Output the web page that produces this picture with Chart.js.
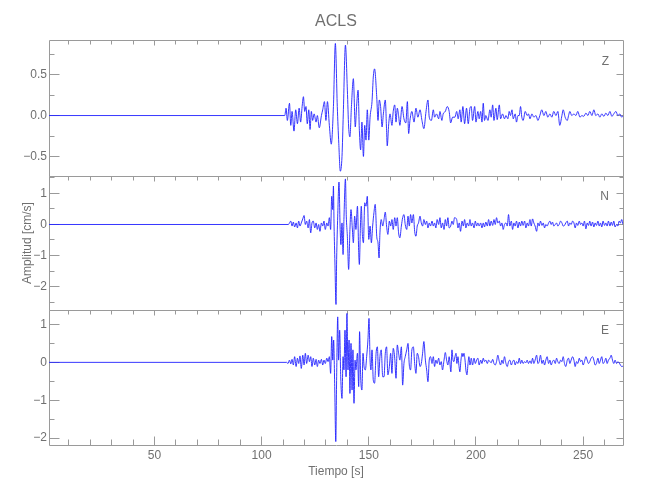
<!DOCTYPE html>
<html><head><meta charset="utf-8">
<script src="https://cdn.jsdelivr.net/npm/chart.js@4/dist/chart.umd.min.js"></script>
<style>html,body{margin:0;padding:0;background:#fff;}#wrap{width:650px;height:500px;}</style>
</head><body><div id="wrap"><canvas id="c" width="650" height="500"></canvas></div>
<script>
const chartTitle = 'ACLS';
const xTitle = 'Tiempo [s]';
const yTitle = 'Amplitud [cm/s]';
const panelNames = ['Z', 'N', 'E'];
const xTickValues = [50, 100, 150, 200, 250];
const zTickValues = [-0.5, 0, 0.5];
const nTickValues = [-2, -1, 0, 1];
const eTickValues = [-2, -1, 0, 1];

// Z component: time [s] and amplitude [cm/s]
const tZ = [
0.8,110.8,111.4,112.0,113.0,113.6,114.2,115.1,115.9,116.7,
117.5,118.2,118.9,119.5,120.1,120.7,121.3,122.0,122.6,123.2,
123.8,124.5,125.4,126.0,126.9,127.9,128.5,129.3,130.0,130.7,
131.6,132.5,133.5,134.4,135.3,136.0,136.7,137.5,138.1,139.1,
140.0,140.6,141.2,141.9,142.8,143.7,144.3,145.0,145.6,146.2,
146.8,147.5,148.1,148.7,149.3,150.0,150.6,151.5,152.1,152.7,
153.7,154.3,154.9,155.5,156.2,156.8,157.7,158.3,158.6,159.3,
159.9,160.8,161.4,162.1,162.7,163.3,163.9,164.5,165.5,166.4,
167.3,168.0,168.6,169.2,170.1,171.1,172.0,172.9,173.9,174.8,
175.7,176.7,177.6,178.2,179.2,180.1,180.7,181.6,182.6,183.2,
184.1,184.7,185.7,186.6,187.5,188.2,189.1,190.2,191.0,191.7,
192.5,193.1,193.9,194.7,195.6,196.4,197.2,197.8,198.4,199.4,
200.0,200.9,201.5,202.2,202.8,203.4,204.0,204.6,205.6,206.5,
207.1,207.8,208.4,209.3,209.9,210.9,211.5,212.4,213.3,214.0,
214.9,215.5,216.1,216.8,217.4,218.3,218.9,219.6,220.2,220.8,
221.4,222.0,223.0,223.9,224.5,225.2,226.1,227.0,228.0,228.9,
229.8,230.7,231.7,232.6,233.5,234.5,235.4,236.3,237.3,238.2,
239.1,240.1,240.7,241.6,242.6,243.2,243.8,244.7,245.7,246.6,
247.5,248.5,249.4,250.3,251.3,252.2,253.1,254.1,255.0,255.9,
256.9,257.8,258.7,259.7,260.6,261.5,262.5,263.4,264.3,265.3,
266.2,267.1,268.0,268.6];
const aZ = [
0,0,0.09,-0.06,0.15,-0.12,0.05,-0.19,0.07,-0.10,
0.09,-0.08,0.11,0.23,0.05,0.11,-0.10,0.07,-0.17,0.05,
-0.06,0.02,-0.08,0.00,-0.15,0.00,0.07,0.17,-0.06,0.17,
-0.12,-0.35,0.11,0.88,0.11,-0.34,-0.68,-0.50,0.02,0.86,
0.31,-0.14,-0.26,0.11,0.45,-0.14,0.11,0.31,-0.18,-0.42,
-0.08,-0.50,-0.12,-0.30,0.07,-0.30,-0.02,0.17,0.47,0.57,
0.23,-0.06,0.19,0.11,-0.14,0.02,0.19,-0.18,-0.37,-0.10,
0.02,-0.12,0.05,0.13,-0.08,0.09,0.00,-0.12,0.11,-0.04,
-0.09,0.17,-0.22,-0.06,0.05,-0.08,0.09,-0.02,0.07,-0.06,
-0.16,0.05,0.19,-0.02,-0.06,0.07,-0.02,0.02,-0.04,0.05,
-0.06,0.02,0.05,0.11,0.05,-0.09,-0.02,-0.02,0.05,-0.04,
0.07,-0.08,0.11,-0.10,0.09,-0.10,0.09,0.11,-0.06,0.11,
-0.08,0.05,-0.04,0.05,-0.08,0.15,-0.06,0.00,-0.06,0.07,
-0.02,0.13,-0.06,0.09,-0.05,0.13,-0.04,0.02,-0.04,0.00,
-0.04,0.05,0.00,0.07,-0.04,0.02,-0.08,0.00,0.00,0.11,
-0.02,-0.06,0.05,0.00,0.02,-0.04,0.02,-0.02,0.00,-0.06,
0.00,0.07,0.00,0.05,-0.02,0.02,-0.02,0.05,0.00,0.05,
-0.12,0.00,0.07,-0.02,-0.06,0.00,0.05,0.00,0.02,0.00,
0.05,-0.02,0.00,-0.01,0.03,0.00,0.05,0.00,0.07,0.00,
0.02,-0.02,0.02,-0.01,0.03,0.00,0.05,-0.01,0.02,0.05,
0.00,0.02,-0.02,0.00];

// N component
const tN = [
0.8,112.5,113.0,113.6,114.2,114.8,115.4,116.1,116.7,117.3,
117.9,118.5,119.2,119.8,120.4,121.0,121.7,122.3,122.9,123.5,
124.1,124.8,125.4,126.0,126.6,127.2,127.9,128.5,129.1,129.7,
130.4,131.0,131.6,132.2,132.7,133.2,133.5,133.8,134.2,134.7,
135.0,135.5,136.1,136.6,137.0,137.5,138.0,138.4,139.1,139.5,
140.0,140.6,141.2,141.7,142.3,142.8,143.4,144.0,144.7,145.3,
145.6,146.1,146.5,147.0,147.5,148.1,148.7,149.3,150.0,150.6,
151.2,151.8,152.4,153.0,153.7,154.3,154.8,155.2,155.8,156.5,
157.1,157.7,158.3,158.9,159.6,160.2,160.8,161.4,162.1,162.7,
163.3,163.9,164.5,165.2,165.8,166.4,167.0,167.7,168.3,168.9,
169.5,170.1,170.8,171.4,172.0,172.6,173.2,173.9,174.5,175.1,
175.7,176.4,177.0,177.6,178.2,178.8,179.5,180.1,180.7,181.3,
181.9,182.6,183.2,183.8,184.4,185.1,185.7,186.3,186.9,187.5,
188.2,188.8,189.4,190.0,191.0,191.6,192.2,192.8,193.5,194.1,
194.7,195.3,195.9,196.6,197.2,197.8,198.4,199.1,199.7,200.3,
200.9,201.5,202.2,202.8,203.4,204.0,204.6,205.3,205.9,206.5,
207.1,207.8,208.4,209.0,209.6,210.2,210.9,211.5,212.1,212.7,
213.3,214.0,214.6,215.2,215.8,216.5,217.1,217.7,218.3,218.9,
219.6,220.2,220.8,221.4,222.0,222.7,223.3,223.9,224.5,225.2,
225.8,226.4,227.0,227.6,228.3,228.9,229.5,230.1,230.8,231.4,
232.0,232.6,233.2,233.9,234.5,235.1,235.7,236.3,237.0,237.6,
238.2,238.8,239.5,240.1,240.7,241.3,241.9,242.6,243.2,243.8,
244.4,245.1,245.7,246.3,246.9,247.5,248.2,248.8,249.4,250.0,
250.6,251.3,251.9,252.5,253.1,253.7,254.4,255.0,255.6,256.2,
256.9,257.5,258.1,258.7,259.3,260.0,260.6,261.2,261.8,262.5,
263.1,263.7,264.3,264.9,265.6,266.2,266.8,267.4,268.0,268.6];
const aN = [
0,0,0.05,0.11,-0.05,0.08,-0.08,0.05,-0.11,0.11,
-0.05,0.05,0.18,0.29,0,0.11,-0.11,0.16,-0.27,0.05,
0.11,-0.11,0.05,-0.16,0,-0.22,0.05,-0.05,0.11,-0.16,
0.05,-0.05,0.22,-0.16,0.91,0.48,1.24,-0.05,-1.24,-2.58,
-1.13,0.27,1.37,-0.05,-0.65,0.05,-0.97,0.16,1.47,0.27,
-0.38,-1.45,-0.16,0.48,-0.11,-0.59,0.27,-0.16,0.59,-0.91,
-1.29,-0.05,0.59,-0.32,-0.59,0.70,0.59,0.91,-0.48,-0.05,
-0.59,-0.05,0.38,0.65,-0.38,-0.59,-1.08,-0.27,0.16,-0.05,
0.16,0.40,-0.05,-0.32,0.11,-0.05,0.16,-0.16,0.22,-0.05,
0.22,-0.27,-0.43,-0.05,0.22,0.32,0,-0.16,0.27,-0.05,
0.32,0.05,0.32,-0.22,-0.38,-0.05,0.05,0.27,0.05,-0.05,
0.16,0,0.11,-0.11,0.05,-0.05,0.11,-0.05,0.05,-0.11,
0.16,0,0.22,-0.11,0.05,-0.16,0.16,-0.05,0.22,-0.11,
-0.05,0.11,0,0.22,0.16,-0.11,0.05,-0.22,0.11,-0.05,
0.16,-0.11,0.05,-0.05,0.16,-0.05,0.05,-0.11,0.11,-0.05,
0.05,-0.05,0.05,-0.11,0.05,-0.08,0.08,-0.05,0.16,-0.05,
0.11,-0.03,0.16,0,0.22,0.05,0.11,-0.05,0.05,-0.16,
0,0.05,-0.05,0.32,-0.05,0.11,-0.16,0.05,-0.05,0.11,
-0.11,0.08,-0.05,0.11,-0.03,0.11,-0.11,0.05,-0.05,0.16,
-0.05,0.18,0.05,-0.05,-0.22,0.05,-0.05,0.11,-0.03,0.05,
-0.11,0,-0.05,0.05,0.11,0,0.08,-0.05,0,0.05,
-0.05,0,0.11,0.05,-0.05,-0.03,0.05,0.11,-0.05,0.05,
0,0.11,0.05,-0.11,0.05,-0.03,0.11,0,0.05,-0.05,
0.11,-0.14,0.05,-0.03,0.11,-0.05,0.08,-0.08,0.05,-0.03,
0.11,-0.05,0.05,-0.08,0.11,-0.03,0.05,-0.05,0.11,-0.05,
0.08,-0.03,0.11,-0.08,0,-0.05,0.11,0.05,0.16,0];

// E component
const tE = [
0.8,111.7,112.3,113.0,113.6,114.2,114.8,115.4,116.1,116.7,
117.3,117.9,118.5,119.2,119.8,120.4,121.0,121.7,122.3,122.9,
123.5,124.1,124.8,125.4,126.0,126.6,127.2,127.9,128.5,129.1,
129.7,130.4,131.0,131.6,132.2,132.7,133.2,133.6,134.1,134.6,
135.0,135.5,135.9,136.4,136.9,137.5,138.0,138.4,138.9,139.4,
139.8,140.3,140.8,141.2,141.7,142.2,142.6,143.1,143.6,144.0,
144.7,145.3,145.7,146.2,146.8,147.3,147.8,148.4,149.0,149.6,
150.1,150.6,151.0,151.5,152.1,152.7,153.4,154.0,154.6,155.2,
155.8,156.5,157.1,157.7,158.3,158.9,159.6,160.2,160.8,161.4,
162.1,162.7,163.3,163.9,164.5,165.2,165.8,166.4,167.0,167.7,
168.3,168.9,169.5,170.1,170.8,171.4,172.0,172.6,173.2,173.9,
174.5,175.1,175.7,176.4,177.0,177.6,178.2,178.8,179.5,180.1,
180.7,181.3,181.9,182.6,183.2,183.8,184.4,185.1,185.7,186.3,
186.9,187.5,188.3,188.8,189.3,189.7,190.2,190.7,191.1,191.6,
192.1,192.5,193.0,193.5,193.9,194.4,194.9,195.3,195.8,196.3,
196.7,197.2,197.8,198.4,199.1,199.7,200.3,200.9,201.5,202.2,
202.8,203.4,204.0,204.6,205.3,205.9,206.5,207.1,207.8,208.4,
209.0,209.6,210.2,210.9,211.5,212.1,212.7,213.3,214.0,214.6,
215.2,215.8,216.5,217.1,217.7,218.3,218.9,219.6,220.2,220.8,
221.4,222.0,222.7,223.3,223.9,224.5,225.2,225.8,226.4,227.0,
227.6,228.3,228.9,229.5,230.1,230.8,231.4,232.0,232.6,233.2,
233.9,234.5,235.1,235.7,236.3,237.0,237.6,238.2,238.8,239.5,
240.1,240.7,241.3,241.9,242.6,243.2,243.8,244.4,245.1,245.7,
246.3,246.9,247.5,248.2,248.8,249.4,250.0,250.6,251.3,251.9,
252.5,253.1,253.7,254.4,255.0,255.6,256.2,256.9,257.5,258.1,
258.7,259.3,260.0,260.6,261.2,261.8,262.5,263.1,263.7,264.3,
264.9,265.6,266.2,266.8,267.4,268.0,268.6];
const aE = [
0,0,-0.03,0.06,-0.04,0.08,-0.07,0.15,-0.11,0.11,
-0.03,0.17,-0.16,0.19,-0.07,0.24,-0.03,0.19,0.02,0.15,
-0.11,0.11,-0.07,0.08,-0.11,0.06,-0.03,0.08,-0.07,0.06,
-0.03,0.11,0.02,0.15,-0.29,0.68,0.06,0.59,-0.64,-2.09,
-0.38,1.20,0.06,0.85,-0.38,-0.95,0.15,-0.20,0.85,-0.38,
1.29,-0.20,0.59,-0.82,0.50,-0.73,0.33,-1.08,0.06,-0.20,
0.24,-0.64,0.81,-0.38,-0.73,0.24,-0.11,-0.20,0.15,0.59,
1.16,0.06,-0.20,0.33,-0.47,-0.55,0.24,0.41,-0.38,0.15,
0.33,-0.38,-0.38,0.24,0.41,-0.33,-0.11,0.24,-0.29,0.37,
0.11,-0.42,0.46,0.24,0.06,0.41,-0.60,-0.03,0.15,0.33,
0.50,-0.07,-0.20,0.33,0.41,-0.03,-0.29,0.24,0.15,-0.11,
-0.03,0.24,0.55,0.06,-0.20,-0.51,0.06,0.15,-0.03,0.15,
-0.11,0.06,-0.03,0.11,-0.07,0.02,-0.20,0.06,0.26,0.06,
-0.07,0.15,-0.25,0.33,0.06,0.02,0.15,0.24,-0.03,0.15,
-0.11,-0.25,0.06,0.24,0.15,0.24,0.06,-0.20,-0.33,-0.03,
0.15,-0.07,0.11,-0.07,0.11,-0.03,0.06,0.11,-0.07,0.06,
-0.03,0.11,0.02,0.06,-0.03,0.06,0.02,-0.01,0.08,-0.03,
-0.07,0.02,0.19,0.02,-0.07,0.06,-0.03,0.15,-0.03,-0.11,
0.02,0.06,-0.07,0.02,0.06,-0.07,0.02,-0.03,0.11,-0.03,
0.06,-0.03,0.02,-0.01,0.06,-0.03,0.04,-0.03,0.11,-0.03,
0.06,0.19,-0.03,0.02,0.19,-0.03,0.06,-0.07,0.06,0.15,
-0.03,0.06,-0.07,0.02,0.06,-0.03,0.11,0.02,-0.03,0.06,
0.02,0.15,-0.03,-0.11,0.06,0.11,-0.03,0.06,0.15,0.06,
-0.11,0.02,-0.03,0.11,0.02,0.06,-0.07,0.02,0.15,0.06,
-0.03,0.02,0.11,0.15,0.06,-0.07,-0.03,0.11,-0.03,0.06,
0.15,-0.03,0.02,0.11,-0.03,0.06,0.11,0.19,0.06,-0.03,
0.06,-0.03,0.02,-0.01,-0.07,-0.11,-0.10];

const textColor = '#707070';
const axisColor = '#9a9a9a';
const traceColor = '#2020ff';
const fontFamily = "'Liberation Sans', Arial, sans-serif";

function toPoints(ts, as) { return ts.map((t, i) => ({x: t, y: as[i]})); }
function fmtMinus(s) { return s.replace('-', '\u2212'); }
const snap = v => Math.floor(v) + 0.5;

const framePlugin = {
  id: 'frames',
  beforeDatasetsDraw(chart) {
    const ctx = chart.ctx;
    const xs = chart.scales.x;
    const panels = [['yZ', 0.25, 0.5], ['yN', 0.5, 1], ['yE', 0.5, 1]];
    const L = snap(xs.left), R = snap(xs.right);
    ctx.save();
    ctx.strokeStyle = axisColor;
    ctx.lineWidth = 1;
    panels.forEach(([id, minor, major], i) => {
      const ys = chart.scales[id];
      const T = snap(ys.top), B = snap(ys.bottom);
      ctx.beginPath();
      ctx.moveTo(L, T); ctx.lineTo(R, T); ctx.lineTo(R, B); ctx.lineTo(L, B); ctx.closePath();
      const k0 = Math.ceil(ys.min / minor - 1e-9), k1 = Math.floor(ys.max / minor + 1e-9);
      for (let k = k0; k <= k1; k++) {
        const v = k * minor;
        const p = snap(ys.getPixelForValue(v));
        const r = v / major;
        const isMajor = Math.abs(r - Math.round(r)) < 1e-6;
        ctx.moveTo(L, p); ctx.lineTo(L + (isMajor ? 10 : 5), p);
        ctx.moveTo(R, p); ctx.lineTo(R - (isMajor ? 7 : 4), p);
      }
      for (let t = 10; t < xs.max; t += 10) {
        const p = snap(xs.getPixelForValue(t));
        const isMajor = t % 50 === 0;
        ctx.moveTo(p, T); ctx.lineTo(p, T + (isMajor ? 5 : 4));
        if (i === 2) { ctx.moveTo(p, B); ctx.lineTo(p, B - (isMajor ? 9 : 6)); }
      }
      ctx.stroke();
      ctx.fillStyle = textColor;
      ctx.font = '12px ' + fontFamily;
      ctx.textAlign = 'right';
      ctx.textBaseline = 'middle';
      ctx.fillText(panelNames[i], xs.right - 14, ys.top + 21);
    });
    ctx.restore();
  }
};

function yScale(ticks, lo, hi, weight, fmt, withTitle) {
  return {
    type: 'linear', position: 'left', stack: 'panels', stackWeight: weight,
    min: lo, max: hi,
    grid: {display: false, drawTicks: false},
    border: {display: false},
    afterBuildTicks: s => { s.ticks = ticks.map(v => ({value: v})); },
    afterFit: s => { s.width = 49; },
    ticks: {color: textColor, font: {family: fontFamily, size: 12}, padding: 2, autoSkip: false,
            callback: v => fmtMinus(fmt(v))},
    title: {display: withTitle, text: yTitle, color: textColor,
            font: {family: fontFamily, size: 12}, padding: {top: 20, bottom: 0}}
  };
}

new Chart(document.getElementById('c'), {
  type: 'line',
  data: {
    datasets: [
      {data: toPoints(tZ, aZ), yAxisID: 'yZ'},
      {data: toPoints(tN, aN), yAxisID: 'yN'},
      {data: toPoints(tE, aE), yAxisID: 'yE'}
    ].map(d => Object.assign(d, {borderColor: traceColor, borderWidth: 0.9, pointRadius: 0,
        cubicInterpolationMode: 'monotone', fill: false}))
  },
  options: {
    responsive: false, animation: false, devicePixelRatio: 1,
    layout: {padding: {top: 0, right: 27, bottom: 0, left: 0}},
    plugins: {
      legend: {display: false}, tooltip: {enabled: false},
      title: {display: true, text: chartTitle, color: textColor, fullSize: false,
              font: {family: fontFamily, size: 16, weight: 'normal'}, padding: {top: 12, bottom: 9}}
    },
    scales: {
      x: {
        type: 'linear', position: 'bottom', min: 0.8, max: 268.6,
        grid: {display: false, drawTicks: false}, border: {display: false},
        afterBuildTicks: s => { s.ticks = xTickValues.map(v => ({value: v})); },
        afterFit: s => { s.height = 55; },
        ticks: {color: textColor, font: {family: fontFamily, size: 12}, padding: 3, autoSkip: false, maxRotation: 0},
        title: {display: true, text: xTitle, color: textColor, font: {family: fontFamily, size: 12},
                padding: {top: 0, bottom: 21}}
      },
      yE: yScale(eTickValues, -2.18, 1.38, 135, v => String(v), false),
      yN: yScale(nTickValues, -2.76, 1.56, 134, v => String(v), true),
      yZ: yScale(zTickValues, -0.74, 0.92, 136, v => v.toFixed(1), false)
    }
  },
  plugins: [framePlugin]
});
</script>
</body></html>
